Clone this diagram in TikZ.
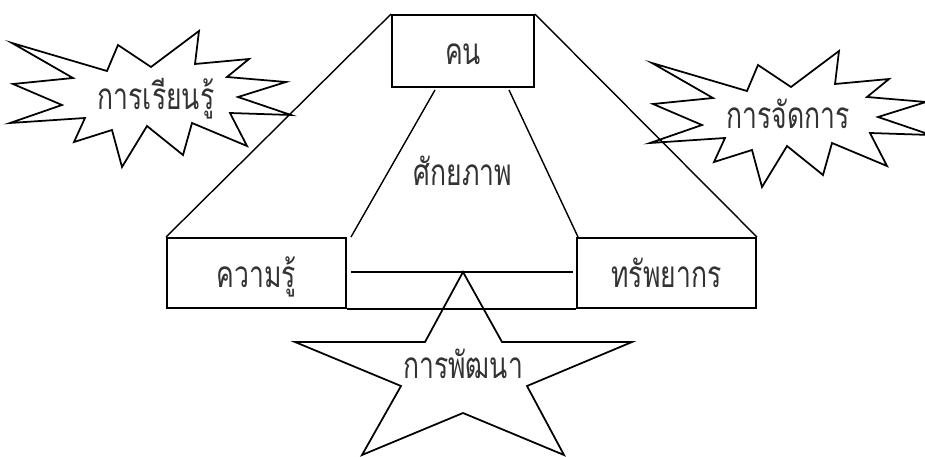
\documentclass[tikz,border=0pt]{standalone}
\usepackage{fontspec}
\newfontfamily\thaifont[Script=Thai]{Loma}
\newcommand\thtext[1]{\scalebox{0.72}[1]{#1}}

\tikzset{
  burst/.pic={
    \draw[line width=1pt,line join=miter]
      (12,43)--(107,71)--(118,45)--(151,67)--(199,31)--(195,64)--(249,59)--(227,77)
      --(286,82)--(238,97)--(291,115)--(230,113)--(247,146)--(192,123)--(183,155)
      --(147,126)--(122,167)--(112,130)--(74,142)--(85,118)--(10,123)--(62,105)
      --(13,84)--(73,78)--cycle;
  }
}

\begin{document}
\begin{tikzpicture}[x=0.02cm,y=-0.02cm,
  lbl/.style={font=\thaifont\fontsize{21}{24}\selectfont,text=black!80,inner sep=0pt},
  box/.style={draw,line width=1.1pt,lbl,text height=0.56cm,text depth=0pt},
  edge/.style={line width=0.8pt}]
\useasboundingbox (0,0) rectangle (925,456);
\clip (0,0) rectangle (925,456);

% boxes
\node[box,minimum width=2.84cm,minimum height=1.44cm] (kon) at (463,51) {\thtext{คน}};
\node[box,minimum width=3.58cm,minimum height=1.40cm] (khwamru) at (256.5,273) {\thtext{ความรู้}};
\node[box,minimum width=3.58cm,minimum height=1.40cm] (sap) at (666.5,273) {\thtext{ทรัพยากร}};

% outer trapezoid
\draw[edge] (kon.north west)--(khwamru.north west);
\draw[edge] (kon.north east)--(sap.north east);
\draw[edge] (khwamru.south east)--(sap.south west);

% inner triangle
\coordinate (il1) at (435,90);
\coordinate (il2) at (351,237);
\coordinate (ir1) at (509,90);
\coordinate (ir2) at (578,237);
\coordinate (hl) at (351,272);
\coordinate (hr) at (573,272);
\draw[edge] (il1)--(il2);
\draw[edge] (ir1)--(ir2);
\draw[edge] (hl)--(hr);
\node[lbl,anchor=base] (sakyaphap) at (463,185) {\thtext{ศักยภาพ}};

% star
\coordinate (top) at (463,272);
\draw[line width=1pt,line join=miter] (top)--(502,342)--(632,342)--(527,386)--(564,455)
  --(463,413)--(362,455)--(401,386)--(295,342)--(425,342)--cycle;
\node[lbl,anchor=base] (phatthana) at (463,378) {\thtext{การพัฒนา}};

% bursts
\pic at (0,0) {burst};
\pic at (640,20) {burst};
\node[lbl,anchor=base] (rianru) at (156,110) {\thtext{การเรียนรู้}};
\node[lbl,anchor=base] (chatkan) at (788,128) {\thtext{การจัดการ}};
\end{tikzpicture}
\end{document}
